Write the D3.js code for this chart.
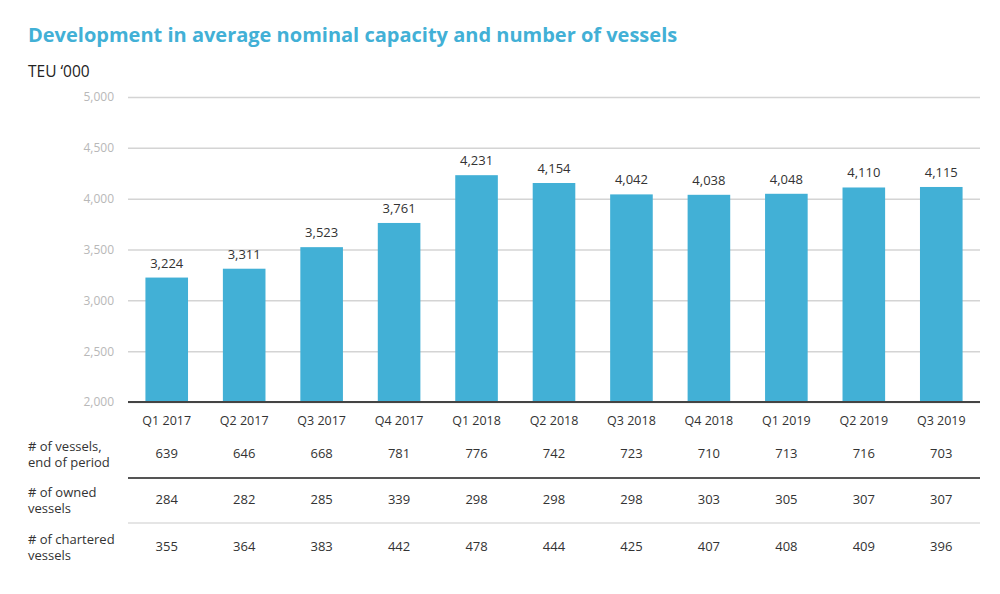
<!DOCTYPE html>
<html>
<head>
<meta charset="utf-8">
<script src="https://cdn.jsdelivr.net/npm/d3@7"></script>
<style>
  body { margin: 0; background: #fff; }
  text { font-family: "Open Sans", sans-serif; }
</style>
</head>
<body>
<svg width="1000" height="594"></svg>
<script>
const quarters = ["Q1 2017","Q2 2017","Q3 2017","Q4 2017","Q1 2018","Q2 2018","Q3 2018","Q4 2018","Q1 2019","Q2 2019","Q3 2019"];
const capacity = [3224, 3311, 3523, 3761, 4231, 4154, 4042, 4038, 4048, 4110, 4115];
const vessels = [639, 646, 668, 781, 776, 742, 723, 710, 713, 716, 703];
const owned = [284, 282, 285, 339, 298, 298, 298, 303, 305, 307, 307];
const chartered = [355, 364, 383, 442, 478, 444, 425, 407, 408, 409, 396];
const yTicks = [2000, 2500, 3000, 3500, 4000, 4500, 5000];

const svg = d3.select("svg");
const blue = "#42b0d6";
const fmt = d3.format(",");

const x = d3.scaleBand()
    .domain(quarters)
    .range([128, 980])
    .paddingInner(0.45)
    .paddingOuter(0.225);

const y = d3.scaleLinear()
    .domain([2000, 5000])
    .range([402, 97]);

// title
svg.append("text")
    .attr("x", 28).attr("y", 42)
    .attr("fill", blue)
    .attr("font-size", 20)
    .attr("font-weight", 700)
    .text("Development in average nominal capacity and number of vessels");

svg.append("text")
    .attr("x", 28).attr("y", 77)
    .attr("fill", "#222")
    .attr("font-size", 15.5)
    .text("TEU \u2018000");

// grid + y labels
const yAxis = d3.axisLeft(y)
    .tickValues(yTicks)
    .tickSize(-(980 - 128))
    .tickPadding(14)
    .tickFormat(fmt);

svg.append("g")
    .attr("transform", "translate(128,0)")
    .call(yAxis)
    .call(g => g.select(".domain").remove())
    .call(g => g.selectAll(".tick line").attr("stroke", "#d4d4d4").attr("stroke-width", 1.5))
    .call(g => g.selectAll(".tick text")
        .attr("fill", "#b8b8b8")
        .attr("font-size", 12)
        .attr("font-family", "Open Sans, sans-serif"));

// bars
svg.append("g")
    .attr("fill", blue)
  .selectAll("rect")
  .data(capacity)
  .join("rect")
    .attr("x", (d, i) => x(quarters[i]))
    .attr("y", d => y(d))
    .attr("width", x.bandwidth())
    .attr("height", d => y(2000) - y(d));

// value labels
svg.append("g")
    .attr("text-anchor", "middle")
    .attr("font-size", 13)
    .attr("fill", "#333")
  .selectAll("text")
  .data(capacity)
  .join("text")
    .attr("x", (d, i) => x(quarters[i]) + x.bandwidth() / 2)
    .attr("y", d => y(d) - 10)
    .text(d => fmt(d));

// baseline
svg.append("line")
    .attr("x1", 128).attr("x2", 980)
    .attr("y1", y(2000)).attr("y2", y(2000))
    .attr("stroke", "#444")
    .attr("stroke-width", 2);

// category labels
const xAxis = d3.axisBottom(x).tickSize(0).tickPadding(14);
svg.append("g")
    .attr("transform", `translate(0,${y(2000)})`)
    .call(xAxis)
    .call(g => g.select(".domain").remove())
    .call(g => g.selectAll(".tick text")
        .attr("fill", "#333")
        .attr("font-size", 12.5)
        .attr("font-family", "Open Sans, sans-serif"));

// table rows
const rows = [
  {label: ["# of vessels,", "end of period"], values: vessels, y: 458},
  {label: ["# of owned", "vessels"], values: owned, y: 504},
  {label: ["# of chartered", "vessels"], values: chartered, y: 551}
];

rows.forEach(r => {
  svg.append("g")
      .attr("font-size", 13)
      .attr("fill", "#333")
    .selectAll("text")
    .data(r.label)
    .join("text")
      .attr("x", 28)
      .attr("y", (d, i) => r.y - 7 + i * 16)
      .text(d => d);

  svg.append("g")
      .attr("text-anchor", "middle")
      .attr("font-size", 13)
      .attr("fill", "#333")
    .selectAll("text")
    .data(r.values)
    .join("text")
      .attr("x", (d, i) => x(quarters[i]) + x.bandwidth() / 2)
      .attr("y", r.y)
      .text(d => d);
});

svg.append("line")
    .attr("x1", 128).attr("x2", 980)
    .attr("y1", 478).attr("y2", 478)
    .attr("stroke", "#555").attr("stroke-width", 1.8);

svg.append("line")
    .attr("x1", 128).attr("x2", 980)
    .attr("y1", 523).attr("y2", 523)
    .attr("stroke", "#ccc").attr("stroke-width", 1.2);
</script>
</body>
</html>
